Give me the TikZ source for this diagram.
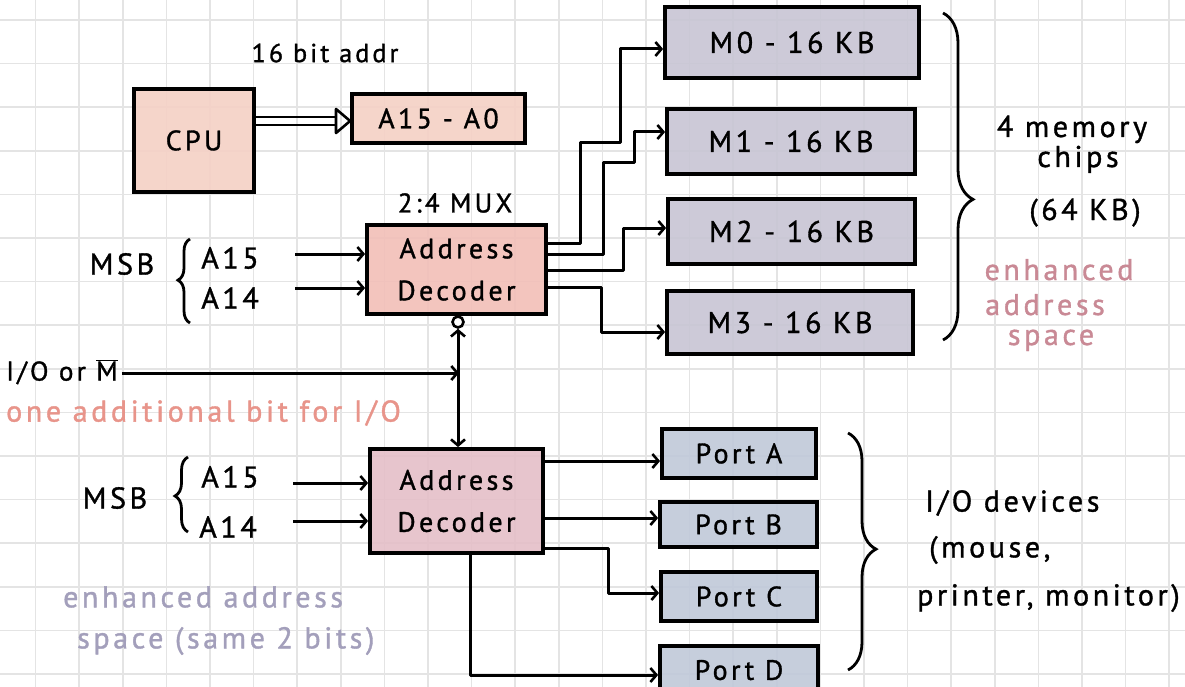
\documentclass[tikz,border=0pt]{standalone}
\usepackage{fontspec}
\setmainfont{PT Sans}[LetterSpace=12, FakeBold=1.2]
\usetikzlibrary{arrows.meta,decorations.pathreplacing,calc}
\definecolor{gridc}{HTML}{E4E4E4}
\definecolor{cpuc}{HTML}{F5D1C5}
\definecolor{dec1c}{HTML}{F2BFB8}
\definecolor{memc}{HTML}{C8C5D4}
\definecolor{dec2c}{HTML}{E5BFC8}
\definecolor{portc}{HTML}{C0C9D9}
\definecolor{salmon}{HTML}{E8948A}
\definecolor{mauve}{HTML}{C98995}
\definecolor{lav}{HTML}{A39FBB}
\tikzset{
  box/.style={draw=black, line width=3.8pt, inner sep=0pt, align=center,
    fill opacity=0.9, text opacity=1, font=\fontsize{28}{42}\selectfont},
  membox/.style={box, font=\fontsize{30}{36}\selectfont},
  conn/.style={line width=3pt, line join=round,
    -{Straight Barb[length=6pt, width=14pt, line width=2.6pt]}},
  lbl/.style={inner sep=0pt, font=\fontsize{30}{34}\selectfont},
  brc/.style={line width=2.8pt, decorate},
}
\begin{document}
\begin{tikzpicture}[x=1pt,y=-1pt]
\useasboundingbox (0,0) rectangle (1185,687);
\clip (0,0) rectangle (1185,687);
\fill[white] (0,0) rectangle (1185,687);
% grid
\foreach \i in {0,...,27} \draw[gridc, line width=1.6pt] ({-8+43.6*\i},0) -- ({-8+43.6*\i},687);
\foreach \j in {0,...,15} \draw[gridc, line width=1.6pt] (0,{20+43.6*\j}) -- (1185,{20+43.6*\j});

% boxes
\node[box, fill=cpuc, minimum width=120pt, minimum height=103pt] (cpu) at (194,140.5) {CPU};
\node[box, fill=cpuc, minimum width=173pt, minimum height=49pt] (addr) at (438.5,118.5) {A15 - A0};
\node[box, fill=dec1c, minimum width=179pt, minimum height=89pt] (dec1) at (456.5,269.5) {Address\\Decoder};
\node[membox, fill=memc, minimum width=254pt, minimum height=71pt] (m0) at (792,42.5) {M0 - 16 KB};
\node[membox, fill=memc, minimum width=248pt, minimum height=65pt] (m1) at (791,141.5) {M1 - 16 KB};
\node[membox, fill=memc, minimum width=247pt, minimum height=65pt] (m2) at (791.5,231.5) {M2 - 16 KB};
\node[membox, fill=memc, minimum width=246pt, minimum height=63pt] (m3) at (790,322.5) {M3 - 16 KB};
\node[box, fill=dec2c, minimum width=173pt, minimum height=104pt] (dec2) at (456.5,501) {Address\\Decoder};
\node[box, fill=portc, minimum width=154pt, minimum height=49pt] (pa) at (739,453.5) {Port A};
\node[box, fill=portc, minimum width=157pt, minimum height=45pt] (pb) at (738.5,524.5) {Port B};
\node[box, fill=portc, minimum width=156pt, minimum height=49pt] (pc) at (739,596.5) {Port C};
\node[box, fill=portc, minimum width=158pt, minimum height=56pt, anchor=north] (pd) at (739,644) {\raisebox{8pt}{Port D}};

% bubble
\node[draw, circle, line width=2.6pt, minimum size=11pt, inner sep=0pt, fill=white] (bub) at (458,322) {};

% double arrow CPU -> A15-A0
\draw[line width=2.6pt] (cpu.east |- 0,117) -- (336,117);
\draw[line width=2.6pt] (cpu.east |- 0,125) -- (336,125);
\draw[line width=2.6pt, line join=round] (336,109) -- (addr.west |- 0,121) -- (336,133) -- cycle;

% labels top
\node[lbl, font=\fontsize{26}{30}\selectfont] (bits) at (325,53) {16 bit addr};
\node[lbl, font=\fontsize{27}{30}\selectfont] (mux) at (455,203) {2:4 MUX};

% inputs decoder 1
\node[lbl] (msb1) at (122,264) {MSB};
\node[lbl] (a15a) at (230,258) {A15};
\node[lbl] (a14a) at (230,298) {A14};
\draw[brc, decoration={brace, amplitude=12pt, aspect=0.51}] (190,323) -- (190,239);
\coordinate (s15a) at (295,254);
\coordinate (s14a) at (295,288);
\draw[conn] (s15a) -- (dec1.west |- s15a);
\draw[conn] (s14a) -- (dec1.west |- s14a);

% decoder 1 outputs
\draw[conn] (dec1.east |- 0,243) -| (580,143) -| (620,49) -- (m0.west |- 0,49);
\draw[conn] (dec1.east |- 0,254) -| (603,163) -| (634,132) -- (m1.west |- 0,132);
\draw[conn] (dec1.east |- 0,270) -| (623,228) -- (m2.west |- 0,228);
\draw[conn] (dec1.east |- 0,287) -| (601,332) -- (m3.west |- 0,332);

% memory brace and labels
\draw[brc, decoration={brace, amplitude=30pt, aspect=0.57}] (943,13) -- (943,340);
\node[lbl, anchor=base] (mem1) at (1072,137) {4 memory};
\node[lbl, anchor=base] (mem2) at (1078,167) {chips};
\node[lbl, anchor=base] (mem3) at (1085,220) {(64 KB)};
\node[lbl, mauve, anchor=base] (enh1) at (1059,280) {enhanced};
\node[lbl, mauve, anchor=base] (enh2) at (1045,315) {address};
\node[lbl, mauve, anchor=base] (enh3) at (1051,345) {space};

% I/O or M line
\node[lbl, anchor=west, font=\fontsize{27}{30}\selectfont] (iom) at (6,372) {I/O or $\overline{\hbox{M}}$};
\coordinate (jn) at (459,373);
\draw[conn] (iom.east |- jn) ++(4,0) -- (jn);
\draw[line width=3pt, {Straight Barb[length=6pt, width=14pt, line width=2.6pt]}-{Straight Barb[length=6pt, width=14pt, line width=2.6pt]}] (bub.south) -- (bub.south |- dec2.north);
\node[lbl, salmon, anchor=west] (onebit) at (6,413) {one additional bit for I/O};

% inputs decoder 2
\node[lbl] (msb2) at (115,498) {MSB};
\node[lbl] (a15b) at (230,477) {A15};
\node[lbl] (a14b) at (228,527) {A14};
\draw[brc, decoration={brace, amplitude=13pt, aspect=0.48}] (188,532) -- (188,457);
\coordinate (s15b) at (293,483);
\coordinate (s14b) at (293,521);
\draw[conn] (s15b) -- (dec2.west |- s15b);
\draw[conn] (s14b) -- (dec2.west |- s14b);
\node[lbl, lav, anchor=west] (enhb1) at (63,597) {enhanced address};
\node[lbl, lav, anchor=west] (enhb2) at (77,641) {space (same 2 bits)};

% decoder 2 outputs
\draw[conn] (dec2.east |- 0,461) -- (pa.west |- 0,461);
\draw[conn] (dec2.east |- 0,518) -- (pb.west |- 0,518);
\draw[conn] (dec2.east |- 0,548) -| (608,593) -- (pc.west |- 0,593);
\draw[conn] (dec2.south -| 470,0) |- (pd.west |- 0,675);

% io brace and labels
\draw[brc, decoration={brace, amplitude=28pt, aspect=0.49}] (848,433) -- (848,670);
\node[lbl, anchor=west] (io1) at (925,503) {I/O devices};
\node[lbl, anchor=west] (io2) at (929,550) {(mouse,};
\node[lbl, anchor=west] (io3) at (917,598) {printer, monitor)};
\end{tikzpicture}
\end{document}
